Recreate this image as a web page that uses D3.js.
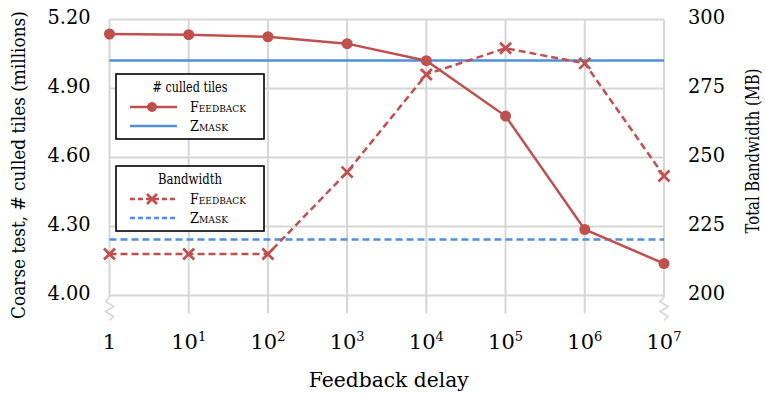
<!DOCTYPE html>
<html>
<head>
<meta charset="utf-8">
<script src="https://cdn.jsdelivr.net/npm/d3@7"></script>
<style>
  body { margin: 0; background: #fff; }
</style>
</head>
<body>
<div id="chart"></div>
<script>
// data
var delayExp = [0, 1, 2, 3, 4, 5, 6, 7];
var culledFeedback = [5.137, 5.134, 5.125, 5.095, 5.021, 4.780, 4.287, 4.139];
var culledZmask = 5.022;
var bwFeedback = [215.0, 215.0, 215.0, 244.7, 280.1, 289.6, 284.1, 243.3];
var bwZmask = 220.3;
var leftTicks = [4.00, 4.30, 4.60, 4.90, 5.20];
var rightTicks = [200, 225, 250, 275, 300];

var red = "#C0504D", blue = "#4F8FDB", grid = "#D6D6D6";

var svgWidth = 765, svgHeight = 395;
var margin = { top: 19.5, right: 101, bottom: 99.5, left: 109.5 };
var width = svgWidth - margin.left - margin.right;
var height = svgHeight - margin.top - margin.bottom;

// only serif face available offline; Times widths are matched with textLength / scaling
var svg = d3.select("#chart").append("svg")
  .attr("width", svgWidth)
  .attr("height", svgHeight)
  .attr("font-family", "'DejaVu Serif', serif");

var g = svg.append("g")
  .attr("transform", `translate(${margin.left}, ${margin.top})`);

var x = d3.scaleLinear().domain([0, 7]).range([0, width]);
var yL = d3.scaleLinear().domain([4.0, 5.2]).range([height, 0]);
var yR = d3.scaleLinear().domain([200, 300]).range([height, 0]);

// horizontal gridlines
g.selectAll(".hgrid").data(leftTicks).enter().append("line")
  .attr("x1", 0).attr("x2", width)
  .attr("y1", d => yL(d)).attr("y2", d => yL(d))
  .attr("stroke", grid).attr("stroke-width", 2);

// vertical gridlines, extending below as tick marks (ends carry break marks)
g.selectAll(".vgrid").data(delayExp).enter().append("line")
  .attr("x1", d => x(d)).attr("x2", d => x(d))
  .attr("y1", 0)
  .attr("y2", (d, i) => (i == 0 || i == delayExp.length - 1) ? height + 2 : height + 18)
  .attr("stroke", grid).attr("stroke-width", 2);

// axis break zigzags
[0, 7].forEach(function (d) {
  var cx = x(d), y0 = height + 2;
  var pts = [[cx, y0], [cx - 4, y0 + 4], [cx + 4, y0 + 9], [cx - 4, y0 + 14], [cx + 4, y0 + 19], [cx, y0 + 23]];
  g.append("path")
    .attr("d", d3.line()(pts))
    .attr("fill", "none").attr("stroke", grid).attr("stroke-width", 1.6);
});

// zmask reference lines
g.append("line")
  .attr("x1", 0).attr("x2", width)
  .attr("y1", yL(culledZmask)).attr("y2", yL(culledZmask))
  .attr("stroke", blue).attr("stroke-width", 2.5);

g.append("line")
  .attr("x1", 0).attr("x2", width)
  .attr("y1", yR(bwZmask)).attr("y2", yR(bwZmask))
  .attr("stroke", blue).attr("stroke-width", 2.5)
  .attr("stroke-dasharray", "7,4");

// bandwidth feedback (dashed, crosses)
g.append("path")
  .datum(bwFeedback)
  .attr("d", d3.line().x((d, i) => x(delayExp[i])).y(d => yR(d)))
  .attr("fill", "none").attr("stroke", red).attr("stroke-width", 2.5)
  .attr("stroke-dasharray", "7,4");

function cross(sel, cx, cy, s) {
  sel.append("path")
    .attr("d", `M${cx - s},${cy - s}L${cx + s},${cy + s}M${cx - s},${cy + s}L${cx + s},${cy - s}`)
    .attr("stroke", red).attr("stroke-width", 2.8).attr("fill", "none");
}
bwFeedback.forEach(function (d, i) { cross(g, x(delayExp[i]), yR(d), 5.5); });

// culled tiles feedback (solid, circles)
g.append("path")
  .datum(culledFeedback)
  .attr("d", d3.line().x((d, i) => x(delayExp[i])).y(d => yL(d)))
  .attr("fill", "none").attr("stroke", red).attr("stroke-width", 2.5);

g.selectAll(".dot").data(culledFeedback).enter().append("circle")
  .attr("cx", (d, i) => x(delayExp[i]))
  .attr("cy", d => yL(d))
  .attr("r", 5.5)
  .attr("fill", red);

// left tick labels
g.selectAll(".ltick").data(leftTicks).enter().append("text")
  .attr("x", -19).attr("y", d => yL(d) + 4)
  .attr("text-anchor", "end")
  .style("font-size", "21px")
  .attr("textLength", 43).attr("lengthAdjust", "spacingAndGlyphs")
  .text(d => d.toFixed(2));

// right tick labels
g.selectAll(".rtick").data(rightTicks).enter().append("text")
  .attr("x", width + 24).attr("y", d => yR(d) + 4)
  .attr("text-anchor", "start")
  .style("font-size", "21px")
  .attr("textLength", 37).attr("lengthAdjust", "spacingAndGlyphs")
  .text(d => d);

// x tick labels with superscripts
var xl = g.selectAll(".xtick").data(delayExp).enter().append("text")
  .attr("x", d => x(d)).attr("y", height + 53)
  .attr("text-anchor", "middle")
  .style("font-size", "21px");
xl.each(function (d) {
  var t = d3.select(this);
  if (d == 0) { t.text("1"); return; }
  t.append("tspan").text("10");
  t.append("tspan").attr("dy", -8).style("font-size", "13px").text(d);
});

// titles: squeeze horizontally with a scale so the box really is the drawn size
function title(tx, ty, rot, size, len, str) {
  var t = svg.append("text")
    .attr("text-anchor", "middle")
    .style("font-size", size + "px")
    .text(str);
  var sx = len / t.node().getComputedTextLength();
  t.attr("transform", `translate(${tx}, ${ty}) rotate(${rot}) scale(${sx}, 1)`);
}
title(margin.left + width / 2 + 2, margin.top + height + 91, 0, 21, 160, "Feedback delay");
title(25, 165, -90, 19, 308, "Coarse test, # culled tiles (millions)");
title(759, 151, -90, 19, 165, "Total Bandwidth (MB)");

// legends
function legend(top, title, titleLen, items) {
  var lg = svg.append("g").attr("transform", `translate(116, ${top})`);
  lg.append("rect")
    .attr("width", 148).attr("height", 65)
    .attr("fill", "#fff").attr("stroke", "#000").attr("stroke-width", 1.6);
  lg.append("text")
    .attr("x", 74).attr("y", 18)
    .attr("text-anchor", "middle")
    .style("font-size", "14px")
    .attr("textLength", titleLen).attr("lengthAdjust", "spacingAndGlyphs")
    .text(title);
  items.forEach(function (it, i) {
    var yy = 33 + i * 19;
    lg.append("line")
      .attr("x1", 14).attr("x2", 61).attr("y1", yy).attr("y2", yy)
      .attr("stroke", it.color).attr("stroke-width", 2.5)
      .attr("stroke-dasharray", it.dash ? "5,3" : null);
    if (it.marker == "circle") {
      lg.append("circle").attr("cx", 36).attr("cy", yy).attr("r", 5).attr("fill", red);
    } else if (it.marker == "cross") {
      cross(lg, 36, yy, 5);
    }
    lg.append("text")
      .attr("x", 74).attr("y", yy + 5)
      .style("font-size", "14px")
      .style("font-variant", "small-caps")
      .attr("textLength", it.len).attr("lengthAdjust", "spacingAndGlyphs")
      .text(it.label);
  });
}
legend(74, "# culled tiles", 75, [
  { label: "Feedback", color: red, marker: "circle", len: 56 },
  { label: "Zmask", color: blue, len: 38 }
]);
legend(166, "Bandwidth", 64, [
  { label: "Feedback", color: red, marker: "cross", dash: true, len: 56 },
  { label: "Zmask", color: blue, dash: true, len: 38 }
]);
</script>
</body>
</html>
